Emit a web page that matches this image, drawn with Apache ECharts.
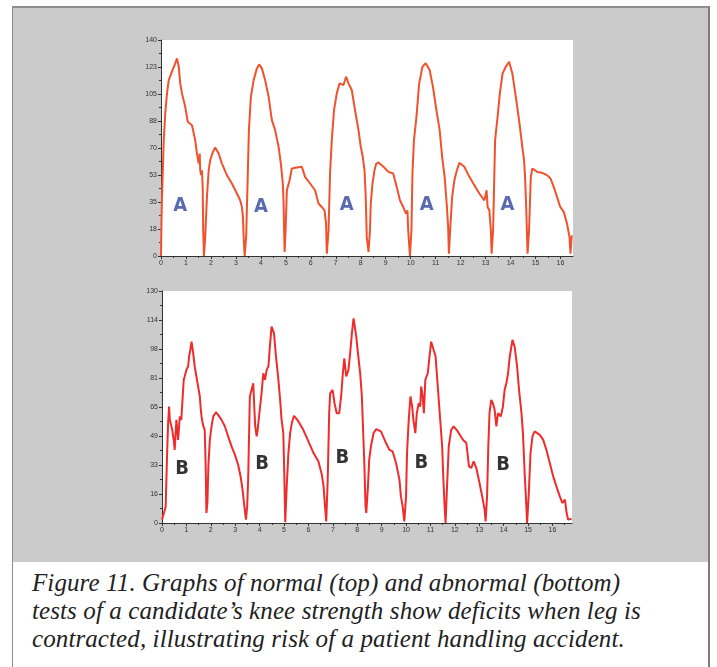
<!DOCTYPE html>
<html>
<head>
<meta charset="utf-8">
<script src="https://cdn.jsdelivr.net/npm/echarts@6/dist/echarts.min.js"></script>
<style>
  html, body { margin: 0; padding: 0; background: #fff; width: 717px; height: 667px; overflow: hidden; }
  .panel {
    position: absolute; left: 12px; top: 6px; width: 698px; height: 556px;
    background: #cbcbcb; border-top: 2px solid #8e8e8e; border-left: 1px solid #8e8e8e;
    border-right: 2px solid #7c7c7c; box-sizing: border-box;
  }
  .caption {
    position: absolute; left: 12px; top: 562px; width: 698px; height: 105px;
    border-left: 1px solid #8e8e8e; border-right: 2px solid #7c7c7c; box-sizing: border-box;
    padding: 7px 0 0 19px;
    font-family: 'Liberation Serif', 'DejaVu Serif', serif; font-style: italic;
    font-size: 25px; line-height: 28px; letter-spacing: 0.1px; color: #222;
  }
  #chart { position: absolute; left: 0; top: 0; width: 717px; height: 667px; }
</style>
</head>
<body>
<div class="panel"></div>
<div class="caption">Figure 11. Graphs of normal (top) and abnormal (bottom)<br>tests of a candidate’s knee strength show deficits when leg is<br>contracted, illustrating risk of a patient handling accident.</div>
<div id="chart"></div>
<script>
// top trace (normal test), [time, force]
const topTrace = [
  [0, 0], [0.02, 23], [0.04, 38.3], [0.11, 75.1], [0.17, 92.4], [0.24, 105.4], [0.31, 114], [0.44, 119.5],
  [0.57, 124.9], [0.64, 128.1], [0.71, 122.7], [0.77, 111.9], [0.84, 105.4], [0.97, 96.7], [1.07, 87],
  [1.24, 84.8], [1.37, 75.1], [1.44, 66.4], [1.51, 59.9], [1.55, 66.4], [1.57, 55.6], [1.61, 52.4],
  [1.64, 55.6], [1.67, 44.8], [1.69, 16.7], [1.72, 0], [1.77, 12.3], [1.84, 38.3], [1.91, 55.6],
  [1.97, 62.1], [2.08, 67.5], [2.17, 70.3], [2.31, 66.4], [2.44, 59.9], [2.64, 52.4], [2.84, 47],
  [3.04, 40.5], [3.17, 36.1], [3.24, 31.8], [3.28, 25.3], [3.31, 12.3], [3.35, 0], [3.41, 12.3],
  [3.47, 49.1], [3.52, 81.6], [3.6, 103.2], [3.71, 114], [3.84, 121.6], [3.93, 124.2], [4.04, 121.6],
  [4.17, 114], [4.31, 103.2], [4.44, 88.1], [4.57, 81.6], [4.71, 70.8], [4.8, 59.9], [4.88, 47],
  [4.91, 34], [4.93, 16.7], [4.95, 2.6], [4.99, 16.7], [5.04, 42.6], [5.15, 49.1], [5.24, 56.7],
  [5.44, 57.3], [5.64, 57.8], [5.77, 51.3], [5.97, 47], [6.17, 42.6], [6.31, 34], [6.44, 31.8],
  [6.55, 29.6], [6.61, 21], [6.64, 1.5], [6.71, 16.7], [6.77, 53.5], [6.84, 75.1], [6.93, 94.6],
  [7.04, 105.4], [7.15, 111.9], [7.31, 110.8], [7.41, 116.2], [7.51, 111.9], [7.64, 107.6],
  [7.77, 94.6], [7.91, 81.6], [8, 70.8], [8.08, 64.3], [8.15, 55.6], [8.2, 38.3], [8.24, 12.3],
  [8.31, 2.6], [8.37, 16.7], [8.4, 34], [8.47, 47], [8.55, 55.6], [8.62, 59.9], [8.71, 60.6],
  [8.91, 57.8], [9.11, 54.5], [9.3, 53.5], [9.44, 44.8], [9.57, 36.1], [9.7, 31.8], [9.81, 27.5],
  [9.87, 29.6], [9.9, 16.7], [9.97, 0], [10.03, 16.7], [10.07, 53.5], [10.13, 75.1], [10.23, 90.2],
  [10.34, 111.9], [10.47, 122.7], [10.6, 124.9], [10.76, 120.5], [10.89, 109.7], [11.03, 94.6],
  [11.16, 81.6], [11.26, 64.3], [11.36, 51.3], [11.45, 31.8], [11.5, 18.8], [11.53, 1.5], [11.58, 16.7],
  [11.66, 38.3], [11.75, 49.1], [11.85, 55.6], [11.95, 60.4], [12.15, 57.8], [12.35, 51.3],
  [12.55, 45.9], [12.75, 40.5], [12.95, 36.1], [13.04, 42.6], [13.08, 31.8], [13.15, 29.6],
  [13.21, 16.7], [13.24, 1.5], [13.3, 16.7], [13.38, 75.1], [13.48, 90.2], [13.57, 105.4],
  [13.68, 118.4], [13.81, 122.7], [13.94, 125.9], [14.07, 118.4], [14.21, 103.2], [14.34, 88.1],
  [14.47, 70.8], [14.54, 62.1], [14.58, 51.3], [14.63, 29.6], [14.66, 12.3], [14.68, 1.5],
  [14.74, 16.7], [14.81, 51.3], [14.87, 56.7], [14.93, 57.8], [15.07, 54.5], [15.26, 53.9],
  [15.46, 52.4], [15.6, 50.2], [15.73, 44.8], [15.86, 38.3], [15.99, 31.8], [16.13, 28.6],
  [16.26, 21], [16.36, 12.3], [16.4, 1.5], [16.45, 13.4]
];

// bottom trace (abnormal test)
const bottomTrace = [
  [0, 1.9], [0.08, 5.6], [0.15, 9.3], [0.18, 24.2], [0.21, 39.2], [0.25, 56], [0.29, 65.3], [0.32, 57.8],
  [0.38, 56.9], [0.42, 52.2], [0.48, 46.6], [0.52, 41], [0.59, 57.8], [0.66, 46.6], [0.73, 59.7],
  [0.79, 57.8], [0.84, 69], [0.89, 80.2], [0.93, 82.1], [1, 85.8], [1.07, 87.7], [1.11, 93.3],
  [1.16, 97], [1.21, 101.6], [1.27, 96], [1.34, 87.7], [1.41, 82.1], [1.48, 76.5], [1.55, 70.9],
  [1.59, 63.4], [1.62, 59.7], [1.68, 55], [1.75, 52.2], [1.79, 31.7], [1.82, 5.6], [1.86, 11.2],
  [1.9, 31.7], [1.96, 46.6], [2.03, 54.1], [2.1, 59.7], [2.21, 62.1], [2.3, 60.6], [2.44, 57.8],
  [2.58, 54.1], [2.71, 48.5], [2.85, 42.9], [2.99, 38.2], [3.12, 32.6], [3.22, 26.1], [3.3, 18.7],
  [3.36, 11.2], [3.44, 1.9], [3.49, 9.3], [3.53, 24.2], [3.58, 57.8], [3.6, 70.9], [3.67, 71.8],
  [3.74, 78.3], [3.78, 65.3], [3.82, 54.1], [3.88, 48.5], [3.92, 52.2], [3.99, 61.5], [4.08, 72.7],
  [4.15, 83.9], [4.22, 80.2], [4.29, 85.8], [4.36, 87.7], [4.42, 98.8], [4.49, 110], [4.59, 106.3],
  [4.67, 93.3], [4.77, 80.2], [4.84, 69], [4.9, 57.8], [4.97, 50.4], [5.01, 28], [5.05, 0.4],
  [5.11, 20.5], [5.18, 39.2], [5.25, 50.4], [5.32, 56], [5.41, 60.1], [5.59, 56.9], [5.79, 52.2],
  [6, 45.7], [6.21, 39.2], [6.41, 34.5], [6.55, 27], [6.62, 20.5], [6.68, 9.3], [6.73, 0.9],
  [6.79, 24.2], [6.85, 61.5], [6.89, 72.7], [6.99, 74.6], [7.07, 67.1], [7.16, 61.5], [7.26, 61.5],
  [7.34, 70.9], [7.41, 83.9], [7.47, 92.3], [7.55, 82.1], [7.64, 85.8], [7.71, 95.1], [7.78, 106.3],
  [7.85, 114.7], [7.96, 104.4], [8.03, 95.1], [8.12, 83.9], [8.19, 70.9], [8.23, 56], [8.29, 33.6],
  [8.34, 9.3], [8.37, 5.6], [8.44, 20.5], [8.49, 35.4], [8.56, 42.9], [8.67, 50.4], [8.78, 52.6],
  [8.97, 51.3], [9.18, 44.8], [9.32, 41], [9.45, 40.1], [9.59, 33.6], [9.73, 24.2], [9.79, 14.9],
  [9.86, 9.3], [9.93, 0.9], [10, 14.9], [10.04, 39.2], [10.11, 57.8], [10.18, 70.9], [10.25, 65.3],
  [10.3, 57.8], [10.38, 50.4], [10.44, 61.5], [10.52, 67.1], [10.58, 65.3], [10.62, 76.5],
  [10.68, 70.9], [10.73, 61.5], [10.79, 80.2], [10.89, 83.9], [10.96, 93.3], [11.03, 101.6],
  [11.1, 102.6], [11.21, 93.3], [11.3, 76.5], [11.4, 57.8], [11.48, 42.9], [11.53, 24.2], [11.58, 9.3],
  [11.62, 0], [11.68, 20.5], [11.75, 42.9], [11.85, 52.2], [11.95, 54.1], [12.12, 51.3], [12.33, 46.6],
  [12.47, 44.8], [12.58, 31.7], [12.67, 30.8], [12.77, 34.5], [12.88, 30.8], [13.01, 22.4],
  [13.12, 14.9], [13.22, 7.5], [13.26, 0.9], [13.32, 14.9], [13.37, 42.9], [13.42, 61.5], [13.49, 69],
  [13.56, 67.1], [13.63, 63.4], [13.7, 54.1], [13.77, 61.5], [13.88, 59.7], [13.97, 65.3], [14.04, 74.6],
  [14.11, 78.3], [14.18, 83.9], [14.25, 93.3], [14.36, 102.6], [14.45, 98.8], [14.55, 87.7],
  [14.63, 74.6], [14.73, 61.5], [14.79, 50.4], [14.86, 28], [14.93, 9.3], [14.96, 0], [15.03, 16.8],
  [15.1, 39.2], [15.18, 48.5], [15.27, 51.3], [15.34, 52.2], [15.48, 49.4], [15.62, 46.6],
  [15.75, 41], [15.89, 33.6], [16.03, 26.1], [16.16, 20.5], [16.3, 14.9], [16.41, 11.2], [16.51, 13.1],
  [16.58, 5.6], [16.64, 1.9], [16.78, 2.2]
];

// hand-written letters on the plots
const marksA = [[0.77, 32.4], [4.0, 32], [7.44, 33], [10.64, 33.5], [13.88, 33]];
const marksB = [[0.82, 30.3], [4.1, 33], [7.39, 36.4], [10.63, 33.8], [13.98, 32.5]];

const xTicks = [0, 1, 2, 3, 4, 5, 6, 7, 8, 9, 10, 11, 12, 13, 14, 15, 16];
const topYTicks = [0, 17.5, 35, 52.5, 70, 87.5, 105, 122.5, 140];
const bottomYTicks = [0, 16.25, 32.5, 48.75, 65, 81.25, 97.5, 113.75, 130];

const axisFont = "'Liberation Sans Narrow', 'Liberation Sans', Arial, sans-serif";
const axisColor = '#333';

const makeX = (gridIndex, max) => ({
  type: 'value',
  gridIndex,
  min: 0,
  max,
  interval: 1,
  axisLine: { show: true, onZero: false, lineStyle: { color: axisColor, width: 1 } },
  axisTick: { show: true, length: 3, customValues: xTicks, lineStyle: { color: axisColor } },
  minorTick: { show: true, splitNumber: 2, length: 2, lineStyle: { color: axisColor } },
  axisLabel: { customValues: xTicks, fontSize: 7, margin: 4, color: axisColor, fontFamily: axisFont },
  splitLine: { show: false },
});

const makeY = (gridIndex, max, ticks) => ({
  type: 'value',
  gridIndex,
  min: 0,
  max,
  interval: max / 8,
  axisLine: { show: true, onZero: false, lineStyle: { color: axisColor, width: 1 } },
  axisTick: { show: true, length: 3, customValues: ticks, lineStyle: { color: axisColor } },
  minorTick: { show: true, splitNumber: 2, length: 2, lineStyle: { color: axisColor } },
  axisLabel: {
    customValues: ticks,
    fontSize: 7,
    margin: 4,
    color: axisColor,
    fontFamily: axisFont,
    formatter: (v) => String(Math.round(v)),
  },
  splitLine: { show: false },
});

const letterSeries = (name, data, idx, text, color) => ({
  name,
  type: 'scatter',
  xAxisIndex: idx,
  yAxisIndex: idx,
  data,
  symbolSize: 1,
  itemStyle: { color: 'rgba(0,0,0,0)' },
  label: {
    show: true,
    position: 'inside',
    formatter: text,
    color,
    fontSize: 20,
    fontWeight: 'bold',
    fontFamily: "'DejaVu Sans Condensed', 'Liberation Sans', sans-serif",
  },
  emphasis: { disabled: true },
});

const chart = echarts.init(document.getElementById('chart'));

chart.setOption({
  animation: false,
  backgroundColor: 'transparent',
  grid: [
    { left: 161, top: 40, width: 412, height: 216, show: true, backgroundColor: '#fff', borderWidth: 0 },
    { left: 162, top: 291, width: 410, height: 232, show: true, backgroundColor: '#fff', borderWidth: 0 },
  ],
  xAxis: [makeX(0, 16.5), makeX(1, 16.8)],
  yAxis: [makeY(0, 140, topYTicks), makeY(1, 130, bottomYTicks)],
  series: [
    {
      name: 'normal',
      type: 'line',
      xAxisIndex: 0,
      yAxisIndex: 0,
      data: topTrace,
      symbol: 'none',
      lineStyle: { color: '#f0522c', width: 2 },
    },
    {
      name: 'abnormal',
      type: 'line',
      xAxisIndex: 1,
      yAxisIndex: 1,
      data: bottomTrace,
      symbol: 'none',
      lineStyle: { color: '#ee2c2c', width: 2 },
    },
    letterSeries('A', marksA, 0, 'A', '#2f45a0'),
    letterSeries('B', marksB, 1, 'B', '#000'),
  ],
});
</script>
</body>
</html>
